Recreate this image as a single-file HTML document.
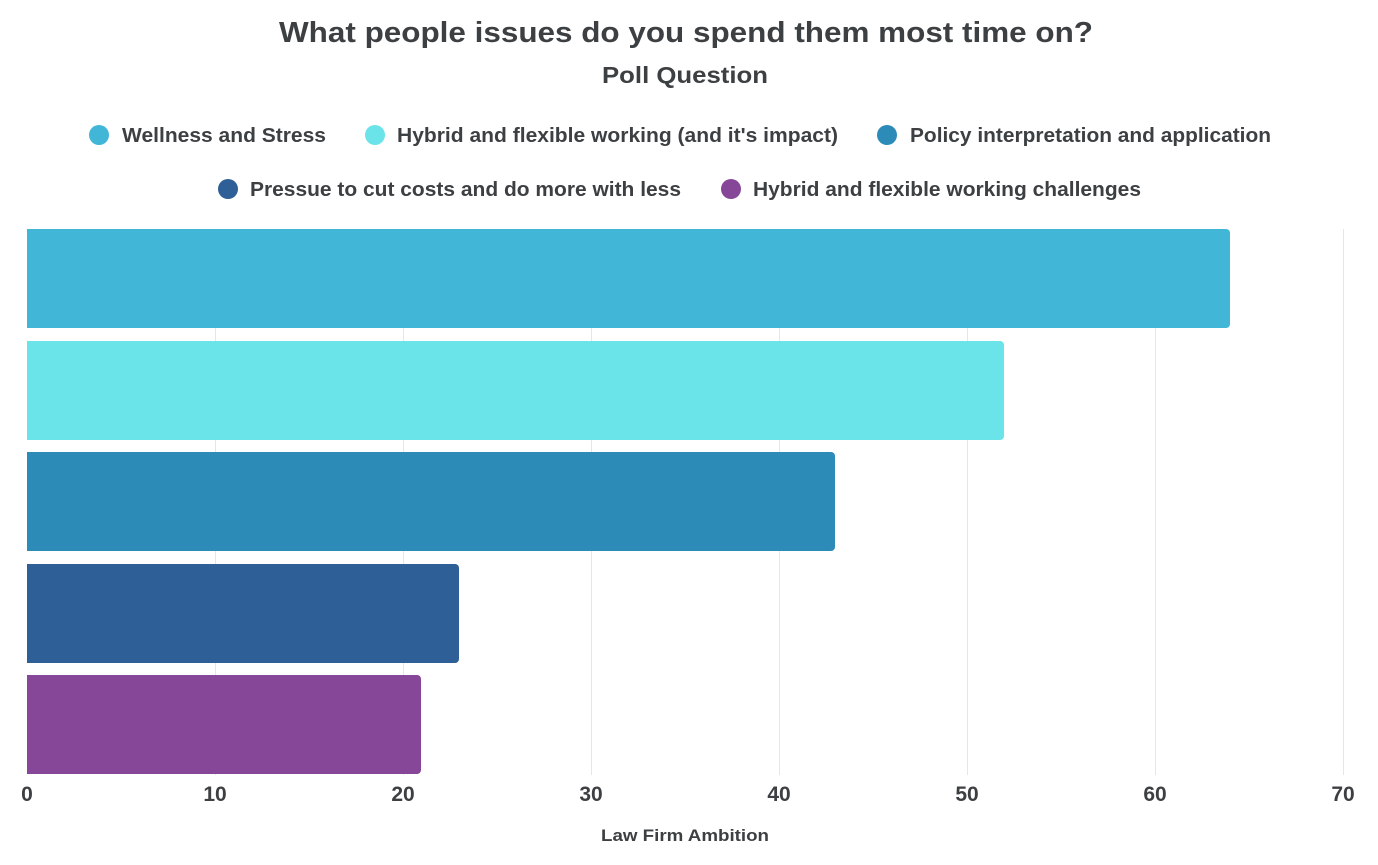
<!DOCTYPE html>
<html><head><meta charset="utf-8"><style>
body{margin:0;background:#fff;width:1378px;height:860px;overflow:hidden;font-family:"Liberation Sans",sans-serif;color:#3d4043}
svg text{font-family:"Liberation Sans",sans-serif;font-weight:bold;fill:#3d4043}
</style></head><body>
<svg width="1378" height="860" xmlns="http://www.w3.org/2000/svg">
<text x="279" y="42" font-size="29" textLength="814" lengthAdjust="spacingAndGlyphs">What people issues do you spend them most time on?</text>
<text x="602" y="83" font-size="23" textLength="166" lengthAdjust="spacingAndGlyphs">Poll Question</text>
<g font-size="20">
<circle cx="99" cy="135" r="10" fill="#41b6d6"/><text x="122" y="142" textLength="204" lengthAdjust="spacingAndGlyphs">Wellness and Stress</text>
<circle cx="375" cy="135" r="10" fill="#6ae4e9"/><text x="397" y="142" textLength="441" lengthAdjust="spacingAndGlyphs">Hybrid and flexible working (and it's impact)</text>
<circle cx="887" cy="135" r="10" fill="#2d8bb8"/><text x="910" y="142" textLength="361" lengthAdjust="spacingAndGlyphs">Policy interpretation and application</text>
<circle cx="228" cy="189" r="10" fill="#2e5f96"/><text x="250" y="196" textLength="431" lengthAdjust="spacingAndGlyphs">Pressue to cut costs and do more with less</text>
<circle cx="731" cy="189" r="10" fill="#874799"/><text x="753" y="196" textLength="388" lengthAdjust="spacingAndGlyphs">Hybrid and flexible working challenges</text>
</g>
<g stroke="#e6e6e6" stroke-width="1">
<line x1="215.5" y1="229" x2="215.5" y2="775"/><line x1="403.5" y1="229" x2="403.5" y2="775"/>
<line x1="591.5" y1="229" x2="591.5" y2="775"/><line x1="779.5" y1="229" x2="779.5" y2="775"/>
<line x1="967.5" y1="229" x2="967.5" y2="775"/><line x1="1155.5" y1="229" x2="1155.5" y2="775"/>
<line x1="1343.5" y1="229" x2="1343.5" y2="775"/>
</g>
<path d="M27 229H1226a4 4 0 0 1 4 4V324a4 4 0 0 1-4 4H27Z" fill="#41b6d6"/>
<path d="M27 341H1000a4 4 0 0 1 4 4V436a4 4 0 0 1-4 4H27Z" fill="#6ae4e9"/>
<path d="M27 452H831a4 4 0 0 1 4 4V547a4 4 0 0 1-4 4H27Z" fill="#2d8bb8"/>
<path d="M27 564H455a4 4 0 0 1 4 4V659a4 4 0 0 1-4 4H27Z" fill="#2e5f96"/>
<path d="M27 675H417a4 4 0 0 1 4 4V770a4 4 0 0 1-4 4H27Z" fill="#874799"/>
<g font-size="21" text-anchor="middle">
<text x="27" y="801">0</text><text x="215" y="801">10</text><text x="403" y="801">20</text>
<text x="591" y="801">30</text><text x="779" y="801">40</text><text x="967" y="801">50</text>
<text x="1155" y="801">60</text><text x="1343" y="801">70</text>
</g>
<text x="601" y="841" font-size="17" textLength="168" lengthAdjust="spacingAndGlyphs">Law Firm Ambition</text>
</svg>
</body></html>
